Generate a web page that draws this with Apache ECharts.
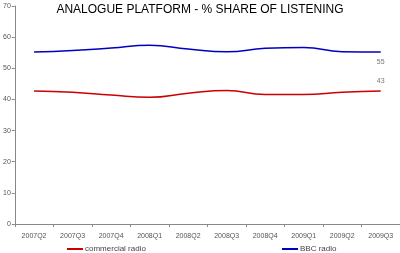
<!DOCTYPE html>
<html><head><meta charset="utf-8">
<script src="https://cdn.jsdelivr.net/npm/echarts@6/dist/echarts.min.js"></script>
<style>html,body{margin:0;padding:0;background:#fff}#c{width:400px;height:253px}</style>
</head><body><div id="c"></div>
<script>
var categories = ['2007Q2','2007Q3','2007Q4','2008Q1','2008Q2','2008Q3','2008Q4','2009Q1','2009Q2','2009Q3'];
var commercial = [42.7, 42.3, 41.4, 40.7, 42.0, 42.9, 41.6, 41.6, 42.3, 42.7];
var bbc = [55.2, 55.7, 56.5, 57.4, 56.2, 55.3, 56.4, 56.7, 55.3, 55.2];
var yTicks = [0, 10, 20, 30, 40, 50, 60, 70];
var chart = echarts.init(document.getElementById('c'));
var font = 'Liberation Sans, Arial, sans-serif';
function endLabel(pos){
  return {show:true, position:pos, distance:6, color:'#777', fontSize:7, fontFamily:font,
    formatter:function(p){return p.dataIndex===categories.length-1?Math.round(p.value):'';}};
}
chart.setOption({
  animation:false,
  title:{text:'ANALOGUE PLATFORM - % SHARE OF LISTENING', left:'center', top:4, padding:0,
    textStyle:{fontSize:12, fontWeight:'normal', color:'#000', fontFamily:font}},
  legend:[
    {data:['commercial radio'], left:67, top:245, padding:0, itemWidth:16, itemHeight:2, itemGap:2,
     icon:'rect', textStyle:{fontSize:8, color:'#444', fontFamily:font, padding:[0,0,0,-3]}},
    {data:['BBC radio'], left:282, top:245, padding:0, itemWidth:16, itemHeight:2,
     icon:'rect', textStyle:{fontSize:8, color:'#444', fontFamily:font, padding:[0,0,0,-3]}}
  ],
  grid:{left:14, right:0, top:6, bottom:29},
  xAxis:{type:'category', data:categories, boundaryGap:true,
    axisLine:{lineStyle:{color:'#888'}},
    axisTick:{show:true, length:3, lineStyle:{color:'#888'}},
    axisLabel:{fontSize:7, color:'#555', fontFamily:font, margin:9}},
  yAxis:{type:'value', min:0, max:70, interval:10,
    axisLine:{show:true, lineStyle:{color:'#888'}},
    axisTick:{show:true, length:3, lineStyle:{color:'#888'}},
    splitLine:{show:false},
    axisLabel:{fontSize:7, color:'#555', fontFamily:font, margin:4,
      formatter:function(v){return yTicks.indexOf(v)>=0?String(v):'';}}},
  series:[
    {name:'commercial radio', type:'line', data:commercial, smooth:0.5, symbol:'circle', symbolSize:0.01,
     lineStyle:{color:'#cc0000', width:1.5}, itemStyle:{color:'#cc0000'}, label:endLabel('top')},
    {name:'BBC radio', type:'line', data:bbc, smooth:0.5, symbol:'circle', symbolSize:0.01,
     lineStyle:{color:'#0000c0', width:1.5}, itemStyle:{color:'#0000c0'}, label:endLabel('bottom')}
  ]
});
</script></body></html>
